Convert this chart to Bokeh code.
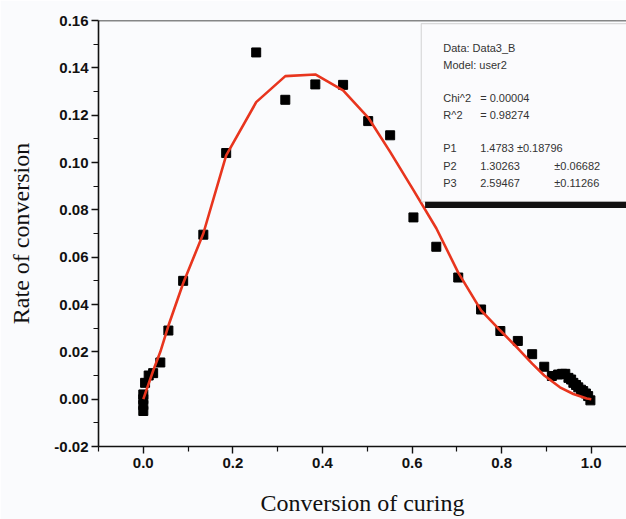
from bokeh.plotting import figure
from bokeh.models import (Range1d, FixedTicker, NumeralTickFormatter, Span,
                          BoxAnnotation, Label, ColumnDataSource)
from bokeh.embed import file_html
from bokeh.resources import INLINE

# measured data (squares)
conv = [0.0, 0.0, 0.0, 0.0, 0.004, 0.012, 0.022, 0.038, 0.056, 0.089, 0.134,
        0.185, 0.252, 0.317, 0.384, 0.446, 0.502, 0.551, 0.603, 0.654, 0.703,
        0.754, 0.797, 0.836, 0.868, 0.895, 0.912, 0.926, 0.935, 0.942, 0.949,
        0.955, 0.960, 0.966, 0.971, 0.977, 0.982, 0.988, 0.993, 0.998]
rate = [-0.005, -0.0025, 0.0, 0.002, 0.0069, 0.0100, 0.011, 0.0155, 0.029,
        0.050, 0.0695, 0.104, 0.1465, 0.1265, 0.133, 0.1328, 0.1175, 0.1115,
        0.0768, 0.0644, 0.0514, 0.0379, 0.0288, 0.0246, 0.019, 0.0137, 0.0098,
        0.0104, 0.0107, 0.0107, 0.0090, 0.0083, 0.0069, 0.0060, 0.0050, 0.0040,
        0.0034, 0.0024, 0.0013, -0.0005]

# fitted curve (model user2)
fit_x = [0.0, 0.022, 0.038, 0.056, 0.089, 0.134, 0.185, 0.252, 0.317, 0.384,
         0.446, 0.502, 0.551, 0.603, 0.654, 0.703, 0.754, 0.797, 0.836, 0.868,
         0.895, 0.930, 0.960, 0.990, 1.0]
fit_y = [0.0, 0.012, 0.020, 0.031, 0.049, 0.070, 0.103, 0.1255, 0.1365, 0.1372,
         0.1305, 0.119, 0.1045, 0.0883, 0.0722, 0.0535, 0.0375, 0.029, 0.0215,
         0.0150, 0.0100, 0.0050, 0.0022, 0.0003, 0.0]

x_major = [0.0, 0.2, 0.4, 0.6, 0.8, 1.0]
x_minor = [-0.1, 0.1, 0.3, 0.5, 0.7, 0.9]
y_major = [-0.02, 0.0, 0.02, 0.04, 0.06, 0.08, 0.10, 0.12, 0.14, 0.16]
y_minor = [-0.01, 0.01, 0.03, 0.05, 0.07, 0.09, 0.11, 0.13, 0.15]

x_title = "Conversion of curing"
y_title = "Rate of conversion"

legend_lines = [
    ("Data: Data3_B", "", ""),
    ("Model: user2", "", ""),
    ("Chi^2", "= 0.00004", ""),
    ("R^2", "= 0.98274", ""),
    ("P1", "1.4783 \u00b10.18796", ""),
    ("P2", "1.30263", "\u00b10.06682"),
    ("P3", "2.59467", "\u00b10.11266"),
]

bg = "#fafbfd"
p = figure(width=626, height=519, output_backend="svg", toolbar_location=None,
           x_range=Range1d(-0.1, 1.0786), y_range=Range1d(-0.02, 0.16),
           min_border_left=98, min_border_right=0, min_border_top=20,
           min_border_bottom=73, background_fill_color=bg,
           border_fill_color=bg, outline_line_color=None)
p.grid.visible = False

for ax in (p.xaxis[0], p.yaxis[0]):
    ax.axis_line_width = 1.6
    ax.axis_line_color = "#111111"
    ax.major_tick_line_color = "#111111"
    ax.minor_tick_line_color = "#111111"
    ax.major_tick_line_width = 1.4
    ax.minor_tick_line_width = 1.2
    ax.major_tick_in = 0
    ax.major_tick_out = 7
    ax.minor_tick_in = 0
    ax.minor_tick_out = 5
    ax.major_label_text_font = "Liberation Sans"
    ax.major_label_text_font_style = "bold"
    ax.major_label_text_font_size = "15px"
    ax.major_label_text_color = "#111111"
    ax.axis_label_text_font = "Liberation Serif"
    ax.axis_label_text_font_style = "normal"
    ax.axis_label_text_font_size = "24px"
    ax.axis_label_text_color = "#111111"

p.xaxis.ticker = FixedTicker(ticks=x_major, minor_ticks=x_minor)
p.yaxis.ticker = FixedTicker(ticks=y_major, minor_ticks=y_minor)
p.xaxis.formatter = NumeralTickFormatter(format="0.0")
p.yaxis.formatter = NumeralTickFormatter(format="0.00")
p.xaxis.axis_label = x_title
p.yaxis.axis_label = y_title
p.xaxis.major_label_standoff = 4
p.yaxis.major_label_standoff = 3
p.xaxis.axis_label_standoff = 19
p.yaxis.axis_label_standoff = 17

# top frame line
p.add_layout(Span(location=0.16, dimension="width", line_color="#111111",
                  line_width=1.6))

src = ColumnDataSource(dict(x=conv, y=rate))
p.scatter("x", "y", source=src, marker="square", size=9,
          fill_color="#000000", line_color="#000000")
p.line(fit_x, fit_y, line_color="#e8351e", line_width=2.6)

# parameter box (top right)
p.add_layout(BoxAnnotation(left=0.6205, right=1.4, top=0.1587, bottom=0.0834,
                           fill_color="#fbfbfd", fill_alpha=1.0,
                           line_color="#8a8a8a", line_width=1.2))
p.add_layout(BoxAnnotation(left=0.629, right=1.4, top=0.0834, bottom=0.0808,
                           fill_color="#111111", fill_alpha=1.0,
                           line_color=None))

row_y = [0.1482, 0.1412, 0.1273, 0.1200, 0.1060, 0.0986, 0.0914]
for (a, b, c), yy in zip(legend_lines, row_y):
    for txt, xx in ((a, 0.6696), (b, 0.752), (c, 0.9175)):
        if not txt:
            continue
        p.add_layout(Label(x=xx, y=yy, text=txt, text_font="Liberation Sans",
                           text_font_size="11px", text_color="#333333",
                           text_baseline="middle"))

open("out.html", "w").write(file_html(p, INLINE))
